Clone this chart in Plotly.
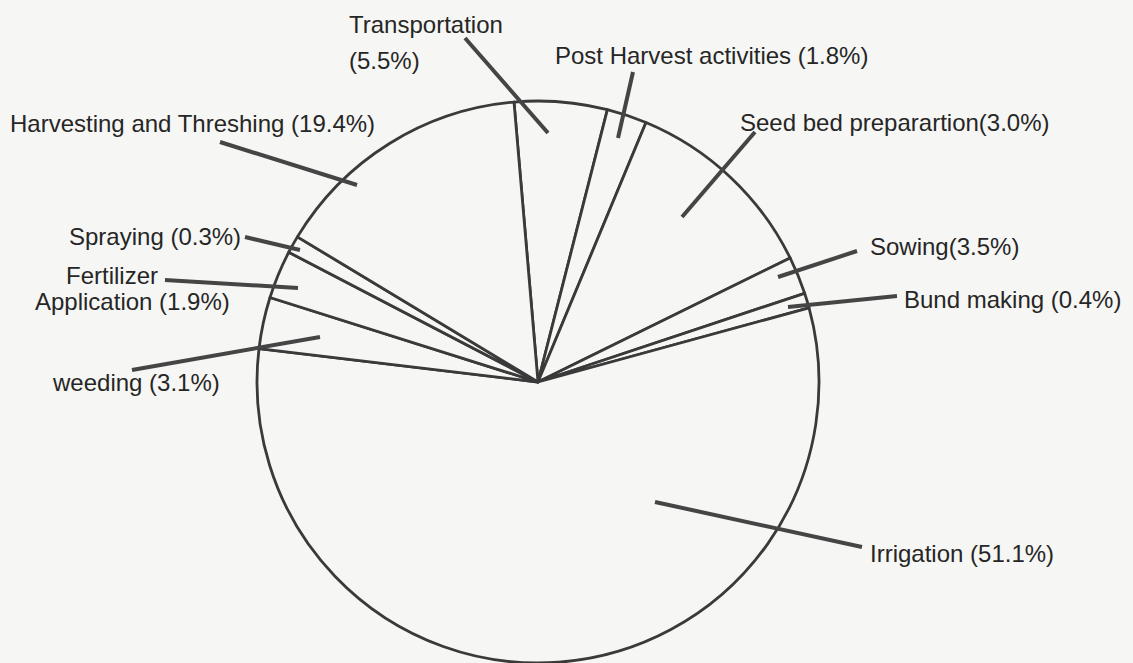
import plotly.graph_objects as go

# ---- data ----
activities = ["Transportation", "Post Harvest activities", "Seed bed preparartion",
              "Sowing", "Bund making", "Irrigation", "weeding",
              "Fertilizer Application", "Spraying", "Harvesting and Threshing"]
# printed percentages
label_pct = [5.5, 1.8, 3.0, 3.5, 0.4, 51.1, 3.1, 1.9, 0.3, 19.4]
# drawn slice sizes (degrees, clockwise from top)
slice_deg = [19.2, 8.3, 41.2, 7.8, 3.1, 202.1, 10.7, 10.0, 3.6, 54.0]
start_angle = -4.9

W, H = 1133, 663
BG = "#f6f6f4"
INK = "#262626"
LINE = "#454545"
FONT = "Liberation Sans, Arial, sans-serif"
FS = 24


def px(x):
    return x / W


def py(y):
    return 1 - y / H


# pie placement (pixels)
cx, cy, r = 538, 382, 281

fig = go.Figure(go.Pie(
    labels=activities,
    values=slice_deg,
    sort=False,
    direction="clockwise",
    rotation=start_angle,
    textinfo="none",
    hoverinfo="label",
    marker=dict(colors=[BG] * len(activities), line=dict(color="#3a3a3a", width=2.8)),
    domain=dict(x=[px(cx - r), px(cx + r)], y=[py(cy + r), py(cy - r)]),
    showlegend=False,
))

# label texts built from data
texts = {
    0: ["Transportation", f"({label_pct[0]}%)"],
    1: [f"Post Harvest activities ({label_pct[1]}%)"],
    2: [f"Seed bed preparartion({label_pct[2]}%)"],
    3: [f"Sowing({label_pct[3]}%)"],
    4: [f"Bund making ({label_pct[4]}%)"],
    5: [f"Irrigation ({label_pct[5]}%)"],
    6: [f"weeding ({label_pct[6]}%)"],
    7: ["Fertilizer", f"Application ({label_pct[7]}%)"],
    8: [f"Spraying ({label_pct[8]}%)"],
    9: [f"Harvesting and Threshing ({label_pct[9]}%)"],
}

# label layout: (x, y, anchor) per text line; leader line (x0, y0, x1, y1)
label_pos = {
    0: [(347, 25, "left"), (347, 60, "left")],
    1: [(553, 55, "left")],
    2: [(738, 122, "left")],
    3: [(868, 246, "left")],
    4: [(902, 300, "left")],
    5: [(868, 553, "left")],
    6: [(222, 383, "right")],
    7: [(112, 275, "center"), (132, 302, "center")],
    8: [(243, 236, "right")],
    9: [(8, 123, "left")],
}
leaders = {
    0: (465, 38, 548, 133),
    1: (633, 72, 618, 138),
    2: (755, 132, 682, 217),
    3: (857, 251, 778, 277),
    4: (897, 296, 788, 307),
    5: (862, 547, 655, 502),
    6: (132, 370, 320, 337),
    7: (165, 280, 298, 288),
    8: (245, 237, 300, 250),
    9: (220, 142, 357, 185),
}

annotations = []
for i, lines in texts.items():
    for t, (x, y, anc) in zip(lines, label_pos[i]):
        annotations.append(dict(
            x=px(x), y=py(y), xref="paper", yref="paper", text=t,
            showarrow=False, xanchor=anc, yanchor="middle",
            font=dict(family=FONT, size=FS, color=INK),
        ))

shapes = []
for i, (x0, y0, x1, y1) in leaders.items():
    shapes.append(dict(type="line", xref="paper", yref="paper",
                       x0=px(x0), y0=py(y0), x1=px(x1), y1=py(y1),
                       line=dict(color=LINE, width=4)))

fig.update_layout(
    width=W, height=H,
    margin=dict(l=0, r=0, t=0, b=0),
    paper_bgcolor=BG, plot_bgcolor=BG,
    annotations=annotations,
    shapes=shapes,
)

fig.write_html(
    "out.html",
    config={"displayModeBar": False},
    post_script=("document.body.style.margin='0';"
                 "document.body.style.padding='0';"
                 "document.body.style.background='%s';" % BG),
)
